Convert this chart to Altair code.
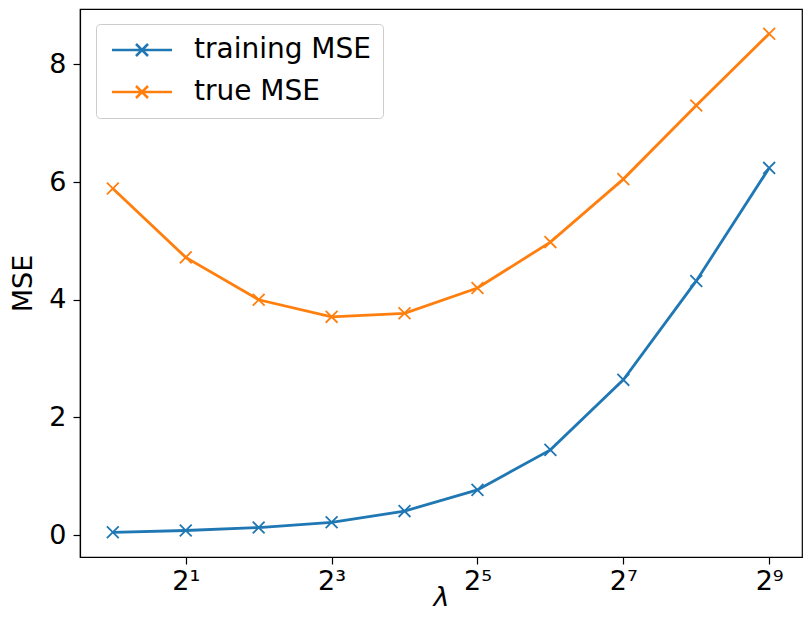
import altair as alt
import pandas as pd

lambdas = [1, 2, 4, 8, 16, 32, 64, 128, 256, 512]
training_mse = [0.05, 0.08, 0.13, 0.22, 0.41, 0.77, 1.45, 2.64, 4.32, 6.24]
true_mse = [5.89, 4.72, 4.00, 3.71, 3.77, 4.20, 4.98, 6.05, 7.30, 8.52]
series_names = ["training MSE", "true MSE"]
colors = ["#1f77b4", "#ff7f0e"]
x_ticks = [2, 8, 32, 128, 512]
y_ticks = [0, 2, 4, 6, 8]

rows = []
for lam, v in zip(lambdas, training_mse):
    rows.append({"lambda": lam, "MSE": v, "series": series_names[0]})
for lam, v in zip(lambdas, true_mse):
    rows.append({"lambda": lam, "MSE": v, "series": series_names[1]})
df = pd.DataFrame(rows)

FONT = "DejaVu Sans"
x_marker = "M-1,-1L1,1M-1,1L1,-1"
legend_symbol = "M-3,0L3,0M-0.6,-0.6L0.6,0.6M-0.6,0.6L0.6,-0.6"

label_expr = ("datum.value == 2 ? '2\u00b9' : datum.value == 8 ? '2\u00b3' : "
              "datum.value == 32 ? '2\u2075' : datum.value == 128 ? '2\u2077' : "
              "datum.value == 512 ? '2\u2079' : ''")

x_enc = alt.X("lambda:Q",
              scale=alt.Scale(type="log", base=2, domain=[2 ** -0.45, 2 ** 9.45], nice=False),
              axis=alt.Axis(values=x_ticks, labelExpr=label_expr, title="λ",
                            titleFontStyle="italic", grid=False, labelPadding=4,
                            titlePadding=-10))
y_enc = alt.Y("MSE:Q", scale=alt.Scale(domain=[-0.37, 8.94], nice=False, zero=False),
              axis=alt.Axis(values=y_ticks, title="MSE", grid=False, labelPadding=7,
                            titlePadding=11))
color_enc = alt.Color("series:N",
                      scale=alt.Scale(domain=series_names, range=colors),
                      legend=alt.Legend(title=None, orient="none", legendX=16, legendY=15,
                                        symbolType=legend_symbol, symbolSize=400,
                                        symbolStrokeWidth=2.5, symbolFillColor="transparent",
                                        symbolOffset=20, labelOffset=38, labelLimit=400,
                                        labelFontSize=28, labelFont=FONT, labelColor="black",
                                        padding=12, rowPadding=14,
                                        fillColor="white", strokeColor="#cccccc",
                                        cornerRadius=4))

base = alt.Chart(df).encode(x=x_enc, y=y_enc, color=color_enc)
lines = base.mark_line(strokeWidth=2.8)
points = base.mark_point(shape=x_marker, filled=False, size=140, strokeWidth=1.8, opacity=1)

chart = alt.layer(lines, points).properties(
    width=722, height=548,
    autosize=alt.AutoSizeParams(type="none"),
    padding={"left": 72, "top": 1, "right": 1, "bottom": 58},
).configure_view(
    stroke="black", strokeWidth=1.2
).configure_axis(
    labelFont=FONT, titleFont=FONT, labelFontSize=27, titleFontSize=27,
    labelColor="black", titleColor="black", titleFontWeight="normal",
    domainColor="black", tickColor="black", tickSize=7, tickWidth=1.2, domainWidth=1.2,
)

chart.save("out.html", embed_options={"renderer": "svg", "actions": False})
